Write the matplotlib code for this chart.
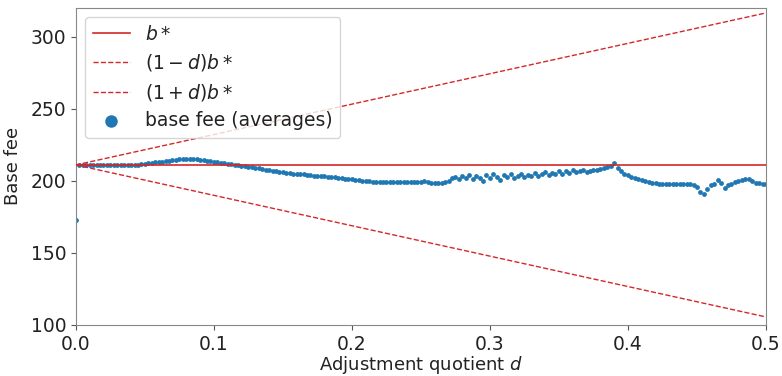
import matplotlib
matplotlib.use("Agg")
import matplotlib.pyplot as plt
import numpy as np

# target base fee and averaged base fee per adjustment quotient (step 0.0025)
b_star = 211.0
d_step = 0.0025
fee = [
    173.0,
    211.0, 210.8, 211.1, 210.9, 211.0, 211.2, 210.9, 211.0, 211.1, 210.8,
    211.0, 211.2, 211.0, 210.9, 211.1, 211.0, 211.2, 211.3, 211.5, 211.8,
    212.0, 212.3, 212.7, 213.0, 213.3, 213.6, 214.0, 214.2, 214.6, 214.9, 215.2, 215.3,
    215.2, 215.0, 214.8, 214.5, 214.2, 213.8, 213.5, 213.2, 212.8, 212.5, 212.1, 211.8, 211.4, 211.0,
    210.7, 210.4, 210.1, 209.8, 209.3, 209.0, 208.6, 208.2, 207.8, 207.5, 207.1, 206.7, 206.3, 205.8,
    205.5, 205.3, 205.0, 204.8, 204.6, 204.4, 204.1, 203.9, 203.6, 203.4, 203.2, 203.0,
    202.8, 202.5, 202.3, 202.0, 201.8, 201.5, 201.2, 201.0, 200.7, 200.4, 200.1, 199.9, 199.6, 199.4,
    199.3, 199.4, 199.3, 199.2, 199.4, 199.3, 199.2, 199.3, 199.5, 199.3, 199.2, 199.4, 199.3, 199.5,
    199.6, 199.2, 198.8, 198.5, 198.3, 198.6, 199.0, 199.8,
    201.8, 202.8,
    200.9, 203.2, 202.0, 204.1, 201.5, 203.5, 202.2, 199.9, 203.8, 201.6,
    204.5, 202.3, 200.6, 203.9, 202.7, 204.8, 201.9, 203.6, 205.0, 202.8,
    204.2, 203.1, 205.6, 203.4, 204.9, 206.1, 203.8, 205.3, 204.4, 206.5,
    205.0, 206.8, 205.2, 207.3, 205.9, 206.6, 207.4, 206.2,
    207.0, 207.8, 207.3, 208.2, 208.6, 209.4, 210.6, 212.3,
    209.0, 206.8, 205.0, 203.8, 202.8, 201.8, 201.0, 200.3,
    199.6, 199.1, 198.6, 198.2, 197.9, 197.6, 197.5, 197.6,
    197.8, 198.0, 197.9, 198.1, 197.9, 197.6, 196.8, 195.5,
    192.5, 190.8, 194.0, 196.8,
    197.5, 200.6, 198.6, 195.0,
    196.8, 198.0, 199.0, 199.8, 200.5, 201.5, 201.0, 199.8, 198.8, 198.2, 197.8, 197.9,
]

d = np.arange(len(fee)) * d_step
d_line = np.array([0.0, 0.5])

plt.rcParams['font.size'] = 13.5
plt.rcParams['text.color'] = '#222222'
plt.rcParams['axes.labelcolor'] = '#222222'
plt.rcParams['xtick.color'] = '#555555'
plt.rcParams['ytick.color'] = '#555555'
plt.rcParams['xtick.labelcolor'] = '#222222'
plt.rcParams['ytick.labelcolor'] = '#222222'

fig = plt.figure(figsize=(7.82, 3.76), dpi=100)
ax = fig.add_axes([0.097, 0.136, 0.8825, 0.843])

red = '#d62728'
ax.plot(d_line, [b_star, b_star], color=red, lw=1.2, label=r'$b*$', zorder=3)
ax.plot(d_line, (1 - d_line) * b_star, color=red, lw=1.0, ls='--', label=r'$(1-d)b*$', zorder=3)
ax.plot(d_line, (1 + d_line) * b_star, color=red, lw=1.0, ls='--', label=r'$(1+d)b*$', zorder=3)
ax.scatter(d, fee, s=12, color='#1f77b4', linewidths=0, label='base fee (averages)', zorder=2)

ax.set_xlim(0, 0.5)
ax.set_ylim(100, 320)
ax.set_xticks([0.0, 0.1, 0.2, 0.3, 0.4, 0.5])
ax.set_yticks([100, 150, 200, 250, 300])
ax.set_xlabel(r'Adjustment quotient $d$', fontsize=13, labelpad=0)
ax.set_ylabel('Base fee', fontsize=13, labelpad=6)
for s in ax.spines.values():
    s.set_color('#888888')

ax.legend(loc='upper left', markerscale=2.6, fontsize=13.5, labelspacing=0.45)

fig.savefig('out.png', dpi=100)
